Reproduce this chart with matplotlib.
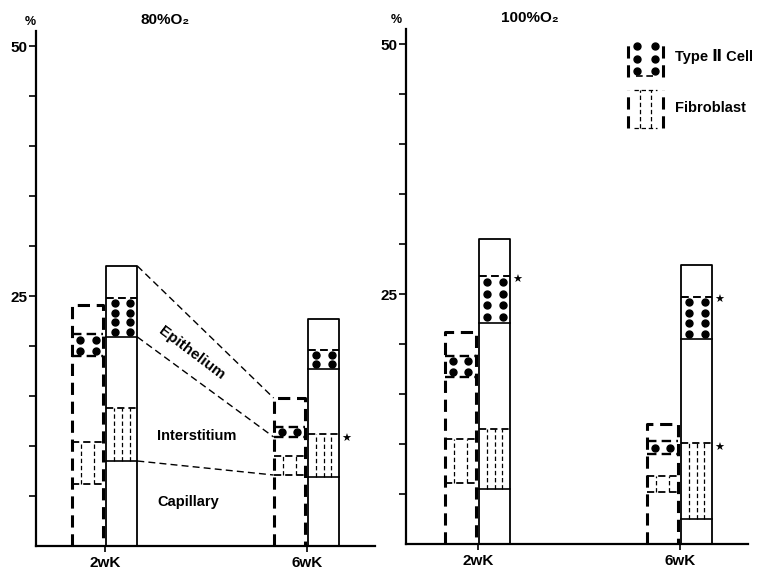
import matplotlib.pyplot as plt

plt.rcParams['font.family'] = ['Liberation Sans', 'DejaVu Sans']
plt.rcParams['font.weight'] = 'bold'

panel_titles = ['80%O₂', '100%O₂']
week_labels = ['2wK', '6wK']

# solid bars: [panel][week]
exp_total = [[28.0, 22.7], [30.5, 27.9]]
exp_type2_top = [[24.8, 19.6], [26.8, 24.7]]
exp_epi_base = [[20.9, 17.7], [22.1, 20.5]]
exp_fib_top = [[13.8, 11.2], [11.5, 10.1]]
exp_int_base = [[8.5, 6.9], [5.5, 2.5]]

# dashed bars: [panel][week]
ctl_total = [[24.1, 14.8], [21.2, 12.0]]
ctl_type2 = [[(19.0, 21.2), (10.9, 11.9)], [(16.7, 18.8), (9.0, 10.3)]]
ctl_fib = [[(6.2, 10.4), (7.1, 9.0)], [(6.1, 10.5), (5.2, 6.8)]]

# stars (significance) on solid bars: (panel, week, value)
stars = [(0, 1, 10.7), (1, 0, 26.4), (1, 1, 24.4), (1, 1, 9.6)]

DASH = (0, (4, 2.2))
FINE = (0, (3.5, 2.2))


def dots(ax, x0, x1, y0, y1, n=None, clip=True):
    if n is None:
        n = max(1, round((y1 - y0) / 1.05))
    h = (y1 - y0) / n
    for i in range(n):
        y = y1 - (i + 0.5) * h
        ax.plot([x0 + 0.27 * (x1 - x0), x0 + 0.76 * (x1 - x0)], [y, y], 'o',
                color='black', ms=5, ls='none', clip_on=clip)


def fib_lines(ax, x0, x1, y0, y1, fr=(0.25, 0.5, 0.75), clip=True):
    for f in fr:
        x = x0 + f * (x1 - x0)
        ax.plot([x, x], [y0, y1], color='black', lw=0.9, ls=FINE, clip_on=clip)


def hline(ax, x0, x1, y, ls='-', lw=1.2, clip=True):
    ax.plot([x0, x1], [y, y], color='black', lw=lw, ls=ls, clip_on=clip)


fig = plt.figure(figsize=(7.77, 5.70), dpi=100)
axes = [fig.add_axes([36 / 777, 24 / 570, 339 / 777, 515 / 570]),
        fig.add_axes([406 / 777, 26 / 570, 342 / 777, 515 / 570])]
xlims = [(-0.342, 1.337), (-0.356, 1.337)]

for p, ax in enumerate(axes):
    ax.set_xlim(*xlims[p])
    ax.set_ylim(0, 51.5)
    for s in ['top', 'right']:
        ax.spines[s].set_visible(False)
    for s in ['left', 'bottom']:
        ax.spines[s].set_linewidth(1.6)
    ax.set_yticks(range(5, 51, 5))
    ax.set_yticklabels(['25' if v == 25 else '50' if v == 50 else '' for v in range(5, 51, 5)])
    ax.set_xticks([0, 1])
    ax.set_xticklabels(week_labels)
    ax.tick_params(axis='y', direction='out', length=5, width=1.2, labelsize=11, pad=1)
    ax.tick_params(axis='x', direction='out', length=4, width=1.2, labelsize=11, pad=3)

    for w in range(2):
        # dashed bar
        c0, c1 = w - 0.165, w - 0.01
        t = ctl_total[p][w]
        ax.plot([c0, c0, c1, c1], [0, t, t, 0], color='black', lw=2.2, ls=DASH)
        a, b = ctl_type2[p][w]
        hline(ax, c0, c1, a, DASH, 1.7)
        hline(ax, c0, c1, b, DASH, 1.7)
        dots(ax, c0, c1, a, b)
        a, b = ctl_fib[p][w]
        hline(ax, c0, c1, a, DASH, 1.3)
        hline(ax, c0, c1, b, DASH, 1.3)
        fib_lines(ax, c0, c1, a, b, (0.3, 0.7))

        # solid bar
        s0, s1 = w + 0.005, w + 0.16
        t = exp_total[p][w]
        ax.plot([s0, s0, s1, s1], [0, t, t, 0], color='black', lw=1.3)
        hline(ax, s0, s1, exp_epi_base[p][w])
        hline(ax, s0, s1, exp_int_base[p][w])
        hline(ax, s0, s1, exp_type2_top[p][w], DASH, 1.4)
        dots(ax, s0, s1, exp_epi_base[p][w], exp_type2_top[p][w])
        hline(ax, s0, s1, exp_fib_top[p][w], DASH, 1.3)
        fib_lines(ax, s0, s1, exp_int_base[p][w], exp_fib_top[p][w])

    fig.text([30, 396][p] / 777, 1 - [22, 20][p] / 570, '%', fontsize=9, ha='center', va='center')
    fig.text([165, 530][p] / 777, 1 - [20, 18][p] / 570, panel_titles[p], fontsize=11,
             ha='center', va='center')

for p, w, v in stars:
    axes[p].text(w + 0.172, v, '★', fontsize=8, family='DejaVu Sans', ha='left', va='center')

# compartment connectors in the 80% panel
ax = axes[0]
left_vals = [exp_total[0][0], exp_epi_base[0][0], exp_int_base[0][0]]
right_vals = [ctl_total[0][1], ctl_type2[0][1][0], ctl_fib[0][1][0]]
for a, b in zip(left_vals, right_vals):
    ax.plot([0.16, 1 - 0.165], [a, b], color='black', lw=1.0, ls=(0, (5, 3)))

ax.text(0.43, 19.3, 'Epithelium', fontsize=11, rotation=-37, ha='center', va='center',
        rotation_mode='anchor')
ax.text(0.455, 11.0, 'Interstitium', fontsize=10.5, ha='center', va='center')
ax.text(0.41, 4.4, 'Capillary', fontsize=10.5, ha='center', va='center')

# legend
ax = axes[1]
lx0, lx1 = 0.743, 0.916
ax.plot([lx0, lx0], [46.7, 50.4], color='black', lw=2.2, ls=DASH, clip_on=False)
ax.plot([lx1, lx1], [46.7, 50.4], color='black', lw=2.2, ls=DASH, clip_on=False)
hline(ax, lx0 + 0.04, lx1 - 0.04, 46.8, DASH, 1.2, False)
dots(ax, lx0, lx1, 46.7, 50.4, n=3, clip=False)
ax.text(0.975, 48.7, 'Type Ⅱ Cell', fontsize=10.5, ha='left', va='center')

ax.plot([lx0, lx0], [41.6, 45.4], color='black', lw=2.2, ls=DASH, clip_on=False)
ax.plot([lx1, lx1], [41.6, 45.4], color='black', lw=2.2, ls=DASH, clip_on=False)
hline(ax, lx0 + 0.03, lx1 - 0.03, 45.4, FINE, 0.9, False)
hline(ax, lx0 + 0.03, lx1 - 0.03, 41.6, FINE, 0.9, False)
fib_lines(ax, lx0, lx1, 41.6, 45.4, (0.35, 0.65), clip=False)
ax.text(0.975, 43.6, 'Fibroblast', fontsize=10.5, ha='left', va='center')

fig.savefig('out.png', dpi=100)
